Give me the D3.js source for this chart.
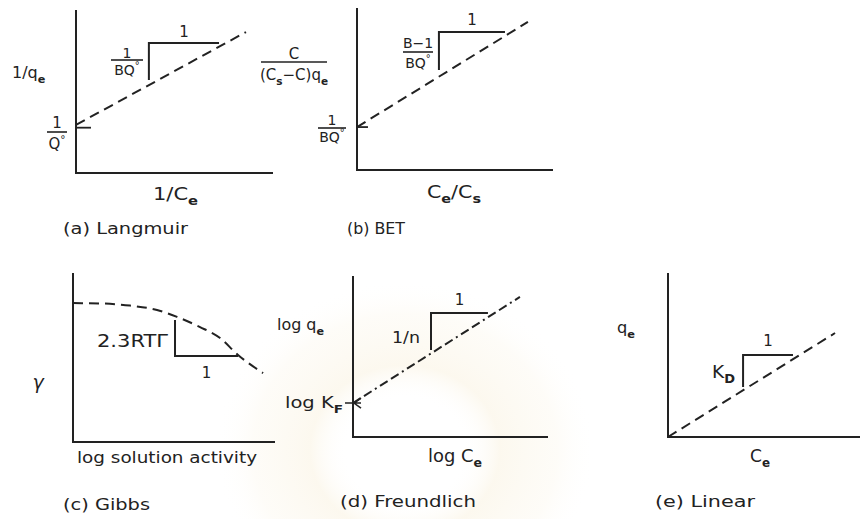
<!DOCTYPE html>
<html>
<head>
<meta charset="utf-8">
<script src="https://cdn.jsdelivr.net/npm/d3@7"></script>
<style>
  html, body { margin: 0; padding: 0; background: #fff; }
  svg { display: block; }
  text { font-family: "DejaVu Sans", "Liberation Sans", sans-serif; fill: #222; }
</style>
</head>
<body>
<svg id="chart" width="860" height="519"></svg>
<script>
// ---- Linearised isotherm sketches (plot units 0–10 on each axis) ----
const captions = ["(a) Langmuir", "(b) BET", "(c) Gibbs", "(d) Freundlich", "(e) Linear"];

// dashed fit lines / curve, [x, y] in plot units
const langmuirLine   = [[0, 2.95], [8.63, 8.65]];
const betLine        = [[0, 2.65], [8.72, 9.14]];
const gibbsCurve     = [[0, 8.22], [1.34, 8.20], [2.82, 8.07], [4.16, 7.81], [5.15, 7.40],
                        [6.29, 6.80], [7.28, 6.15], [8.17, 5.15], [9.41, 4.08]];
const freundlichLine = [[0, 2.11], [8.56, 8.70]];
const linearLine     = [[0, 0], [8.70, 6.34]];

// slope triangles: [x at riser, x at end of run, y bottom of riser, y of run]
const langmuirSlope   = [3.70, 7.26, 5.70, 7.98];
const betSlope        = [4.18, 7.55, 6.17, 8.52];
const gibbsSlope      = [5.05, 8.17, 7.22, 5.09];
const freundlichSlope = [4.00, 6.92, 5.40, 7.70];
const linearSlope     = [3.91, 6.51, 3.05, 5.00];

// intercept ticks on the y axis: [y, tick length in x units]
const langmuirIntercept   = [2.78, 0.76];
const betIntercept        = [2.65, 0.56];
const freundlichIntercept = [2.11];

// ---- layout of each small frame (pixels) ----
const frames = {
  a: { x0: 76,  x1: 273, y0: 173, y1: 10 },
  b: { x0: 357, x1: 553, y0: 170, y1: 8 },
  c: { x0: 73,  x1: 275, y0: 442, y1: 273 },
  d: { x0: 353, x1: 548, y0: 437, y1: 276 },
  e: { x0: 668, x1: 860, y0: 437, y1: 273 }
};

const svg = d3.select("#chart");
const INK = "#222";

// faint seal in the paper background
const defs = svg.append("defs");
const rg = defs.append("radialGradient").attr("id", "seal");
rg.append("stop").attr("offset", "0%").attr("stop-color", "#ffffff").attr("stop-opacity", 0);
rg.append("stop").attr("offset", "30%").attr("stop-color", "#ffffff").attr("stop-opacity", 0);
rg.append("stop").attr("offset", "50%").attr("stop-color", "#f8eed6").attr("stop-opacity", 0.4);
rg.append("stop").attr("offset", "80%").attr("stop-color", "#faf3e2").attr("stop-opacity", 0.25);
rg.append("stop").attr("offset", "100%").attr("stop-color", "#ffffff").attr("stop-opacity", 0);
svg.append("ellipse").attr("cx", 405).attr("cy", 450).attr("rx", 190).attr("ry", 170)
  .attr("fill", "url(#seal)");

function scalesFor(f) {
  return {
    x: d3.scaleLinear().domain([0, 10]).range([f.x0, f.x1]),
    y: d3.scaleLinear().domain([0, 10]).range([f.y0, f.y1])
  };
}

function drawAxes(f) {
  svg.append("path")
    .attr("d", `M${f.x0},${f.y1}V${f.y0}H${f.x1}`)
    .attr("fill", "none").attr("stroke", INK).attr("stroke-width", 2);
}

function drawDashed(s, pts, curve, dash) {
  const line = d3.line().x(d => s.x(d[0])).y(d => s.y(d[1])).curve(curve || d3.curveLinear);
  svg.append("path").attr("d", line(pts))
    .attr("fill", "none").attr("stroke", INK).attr("stroke-width", 2)
    .attr("stroke-dasharray", dash || "10,6");
}

function drawSlope(s, t) {
  const [xa, xb, yLow, yRun] = t;
  svg.append("path")
    .attr("d", `M${s.x(xa)},${s.y(yLow)}V${s.y(yRun)}H${s.x(xb)}`)
    .attr("fill", "none").attr("stroke", INK).attr("stroke-width", 2);
}

function tick(s, y, len) {
  svg.append("line")
    .attr("x1", s.x(0)).attr("x2", s.x(len)).attr("y1", s.y(y)).attr("y2", s.y(y))
    .attr("stroke", INK).attr("stroke-width", 1.8);
}

// text with sub/superscript pieces: parts = ["txt", ["sub","e"], ["sup","°"]]
function rich(x, y, parts, size, opts = {}) {
  const t = svg.append("text").attr("x", x).attr("y", y)
    .attr("font-size", size).attr("text-anchor", opts.anchor || "start");
  if (opts.len) t.attr("textLength", opts.len).attr("lengthAdjust", "spacingAndGlyphs");
  if (opts.style) t.attr("font-style", opts.style);
  let shift = 0;
  parts.forEach(p => {
    if (typeof p === "string") {
      t.append("tspan").attr("dy", -shift).text(p);
      shift = 0;
    } else {
      const [kind, s] = p;
      const off = kind === "sub" ? size * 0.3 : -size * 0.4;
      t.append("tspan").attr("dy", off - shift).attr("font-size", size * 0.7)
        .attr("font-weight", kind === "sub" ? "bold" : "normal").text(s);
      shift = off;
    }
  });
  return t;
}

function fraction(cx, lineY, half, num, den, size, gapN, gapD) {
  rich(cx, lineY - (gapN || 3), num, size, { anchor: "middle" });
  svg.append("line").attr("x1", cx - half).attr("x2", cx + half)
    .attr("y1", lineY).attr("y2", lineY).attr("stroke", INK).attr("stroke-width", 1.6);
  rich(cx, lineY + (gapD || size), den, size, { anchor: "middle" });
}

// ---------- (a) Langmuir ----------
{
  const f = frames.a, s = scalesFor(f);
  drawAxes(f);
  drawDashed(s, langmuirLine);
  drawSlope(s, langmuirSlope);
  tick(s, langmuirIntercept[0], langmuirIntercept[1]);
  rich(s.x((langmuirSlope[0] + langmuirSlope[1]) / 2), s.y(langmuirSlope[3]) - 6, ["1"], 15, { anchor: "middle" });
  fraction(127, 60, 16, ["1"], ["BQ", ["sup", "°"]], 14, 2, 15);
  fraction(57, 132, 10, ["1"], ["Q", ["sup", "°"]], 15, 4, 17);
  rich(12, 78, ["1/q", ["sub", "e"]], 16);
  rich(153, 200, ["1/C", ["sub", "e"]], 18, { len: 45 });
}

// ---------- (b) BET ----------
{
  const f = frames.b, s = scalesFor(f);
  drawAxes(f);
  drawDashed(s, betLine);
  drawSlope(s, betSlope);
  tick(s, betIntercept[0], betIntercept[1]);
  rich(s.x((betSlope[0] + betSlope[1]) / 2), s.y(betSlope[3]) - 7, ["1"], 15, { anchor: "middle" });
  fraction(418, 52, 15, ["B−1"], ["BQ", ["sup", "°"]], 14, 4, 16);
  fraction(332, 128, 14, ["1"], ["BQ", ["sup", "°"]], 14, 3, 14);
  fraction(294, 62, 33, ["C"], ["(C", ["sub", "s"], "−C)q", ["sub", "e"]], 15, 3, 18);
  rich(427, 198, ["C", ["sub", "e"], "/C", ["sub", "s"]], 18, { len: 54 });
}

// ---------- (c) Gibbs ----------
{
  const f = frames.c, s = scalesFor(f);
  drawAxes(f);
  drawDashed(s, gibbsCurve, d3.curveMonotoneX);
  drawSlope(s, gibbsSlope);
  rich(s.x((gibbsSlope[0] + gibbsSlope[1]) / 2), s.y(gibbsSlope[3]) + 22, ["1"], 15, { anchor: "middle" });
  rich(168, 347, ["2.3RTΓ"], 18, { anchor: "end", len: 71 });
  rich(38, 389, ["γ"], 19, { anchor: "middle", style: "italic" });
  rich(77, 463, ["log solution activity"], 16, { len: 180 });
}

// ---------- (d) Freundlich ----------
{
  const f = frames.d, s = scalesFor(f);
  drawAxes(f);
  drawDashed(s, freundlichLine, null, "9,4,9,4,2,4");
  drawSlope(s, freundlichSlope);
  // arrowhead where the line meets the axis, with its tick
  const tx = s.x(0), ty = s.y(freundlichIntercept[0]);
  svg.append("path")
    .attr("d", `M${tx - 8},${ty}H${tx + 8}M${tx + 8},${ty - 5}L${tx + 1},${ty}L${tx + 8},${ty + 5}`)
    .attr("fill", "none").attr("stroke", INK).attr("stroke-width", 1.6);
  rich(s.x((freundlichSlope[0] + freundlichSlope[1]) / 2), s.y(freundlichSlope[3]) - 8, ["1"], 15, { anchor: "middle" });
  rich(420, 343, ["1/n"], 16, { anchor: "end", len: 28 });
  rich(277, 330, ["log q", ["sub", "e"]], 16, { len: 47 });
  rich(285, 408, ["log K", ["sub", "F"]], 16, { len: 58 });
  rich(428, 462, ["log C", ["sub", "e"]], 17, { len: 54 });
}

// ---------- (e) Linear ----------
{
  const f = frames.e, s = scalesFor(f);
  drawAxes(f);
  drawDashed(s, linearLine);
  drawSlope(s, linearSlope);
  rich(s.x((linearSlope[0] + linearSlope[1]) / 2), s.y(linearSlope[3]) - 9, ["1"], 15, { anchor: "middle" });
  rich(712, 378, ["K", ["sub", "D"]], 17, { len: 23 });
  rich(617, 333, ["q", ["sub", "e"]], 15, { len: 18 });
  rich(750, 462, ["C", ["sub", "e"]], 17, { len: 20 });
}

// ---------- captions ----------
const captionPos = [[63, 234, 125], [347, 234, 58], [63, 510, 87], [340, 507, 136], [655, 507, 100]];
captions.forEach((c, i) => {
  const [x, y, w] = captionPos[i];
  rich(x, y, [c], 16, { len: w });
});
</script>
</body>
</html>
